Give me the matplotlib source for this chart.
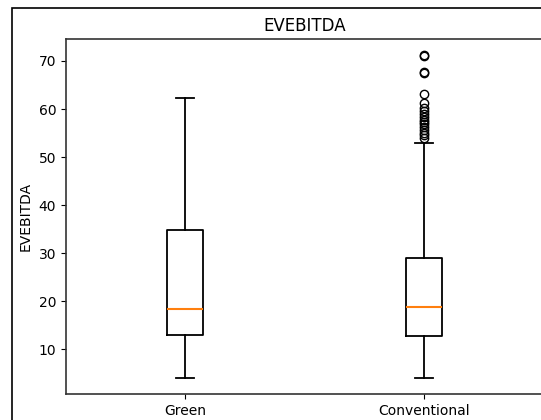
import matplotlib
matplotlib.use("Agg")
import matplotlib.pyplot as plt
from matplotlib.patches import Rectangle

# box statistics
groups = ["Green", "Conventional"]
whisker_low = [4.1, 4.1]
q1 = [13.0, 12.9]
median = [18.5, 18.9]
q3 = [34.8, 29.0]
whisker_high = [62.2, 52.9]
fliers = [
    [],
    [71.2, 71.0, 67.7, 67.4, 63.1, 61.2, 60.2, 59.6, 59.0, 58.4, 57.8,
     57.3, 56.8, 56.2, 55.7, 55.1, 54.5, 54.0],
]

stats = []
for i, name in enumerate(groups):
    stats.append({
        "label": name,
        "whislo": whisker_low[i],
        "q1": q1[i],
        "med": median[i],
        "q3": q3[i],
        "whishi": whisker_high[i],
        "fliers": fliers[i],
    })

plt.rcParams["boxplot.boxprops.linewidth"] = 1.3
plt.rcParams["boxplot.whiskerprops.linewidth"] = 1.3
plt.rcParams["boxplot.capprops.linewidth"] = 1.3
plt.rcParams["boxplot.medianprops.linewidth"] = 1.5
plt.rcParams["boxplot.flierprops.linewidth"] = 1.3
plt.rcParams["axes.edgecolor"] = "#333333"
plt.rcParams["axes.linewidth"] = 1.2

fig = plt.figure(figsize=(5.41, 4.2), dpi=100)
# the reference is a crop of a bigger framed figure
fig.patches.append(Rectangle((12 / 541, -0.5), 2, 1 - 8 / 420 + 0.5,
                             transform=fig.transFigure, fill=False,
                             edgecolor="black", linewidth=1.2))
ax = fig.add_axes([66 / 541, 1 - 394 / 420, 477.5 / 541, 355 / 420])
ax.bxp(stats)
ax.set_xlim(0.5, 2.5)
ax.set_title("EVEBITDA")
ax.set_ylabel("EVEBITDA")

fig.savefig("out.png", dpi=100)
